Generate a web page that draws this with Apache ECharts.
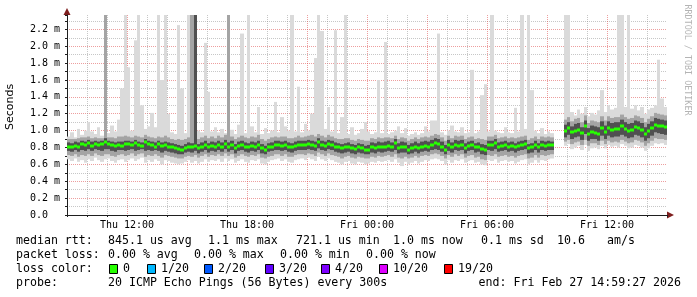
<!DOCTYPE html>
<html><head><meta charset="utf-8">
<script src="https://cdn.jsdelivr.net/npm/echarts@6/dist/echarts.min.js"></script>
<style>html,body{margin:0;padding:0;background:#fff}#c{width:697px;height:297px}</style>
</head><body><div id="c"></div>
<script>
// ---- data (ms); one sample every 10 minutes starting Thu 09:00 ----
const startHour = 9;            // hours since Thu 00:00
const stepHours = 1 / 6;        // 10 minutes
const xTickHours = [12, 18, 24, 30, 36];
const xTickLabels = ['Thu 12:00', 'Thu 18:00', 'Fri 00:00', 'Fri 06:00', 'Fri 12:00'];

const median = [
 0.81,0.80,0.82,0.81,0.84,0.83,0.85,0.82,0.84,0.83, 0.84,0.87,0.84,0.83,0.82,0.83,0.82,0.84,0.84,0.83, 0.85,0.83,0.82,0.86,0.84,0.83,0.81,0.84,0.82,0.83,
 0.81,0.80,0.79,0.78,0.77,0.79,0.81,0.80,0.82,0.79, 0.81,0.83,0.80,0.82,0.81,0.83,0.81,0.84,0.81,0.83, 0.79,0.82,0.83,0.81,0.80,0.82,0.81,0.83,0.79,0.77,
 0.80,0.81,0.83,0.83,0.82,0.83,0.81,0.80,0.82,0.83, 0.83,0.83,0.84,0.83,0.82,0.86,0.83,0.82,0.84,0.83, 0.81,0.80,0.79,0.80,0.81,0.79,0.78,0.80,0.79,0.77,
 0.77,0.80,0.79,0.81,0.80,0.81,0.82,0.81,0.85,0.79, 0.81,0.80,0.77,0.79,0.81,0.79,0.81,0.82,0.81,0.83, 0.85,0.84,0.81,0.77,0.83,0.80,0.83,0.82,0.83,0.79,
 0.82,0.83,0.80,0.81,0.78,0.77,0.83,0.83,0.85,0.81, 0.82,0.83,0.81,0.82,0.80,0.82,0.83,0.84,0.79,0.80, 0.83,0.80,0.83,0.82,0.83,0.83,null,null,null,0.99,
 1.03,0.98,1.00,1.01,0.97,1.05,0.96,0.98,0.97,0.96, 1.03,0.98,1.03,1.01,1.02,1.02,1.05,1.02,1.00,1.01, 1.04,1.03,1.01,0.96,1.00,1.03,1.07,1.06,1.05,1.04
];
const smokeMax = [
 0.93,0.98,0.92,1.02,0.95,1.00,1.10,0.99,0.96,1.04, 0.94,2.37,0.97,1.06,0.99,1.13,1.50,2.37,1.75,1.00, 2.07,2.37,1.30,1.02,1.05,1.21,1.04,2.37,1.60,2.37,
 1.20,0.98,0.96,2.25,1.50,0.97,2.37,2.37,2.37,1.00, 0.98,2.04,1.46,0.99,1.04,0.98,1.02,0.97,2.37,1.01, 0.96,1.07,2.15,0.97,2.37,1.05,0.98,1.28,0.96,1.03,
 0.97,1.00,1.34,0.98,1.16,1.05,1.00,2.37,0.99,1.52, 0.98,1.08,1.00,1.20,1.86,2.37,2.18,1.02,1.28,0.99, 2.19,0.97,1.16,2.37,0.96,1.04,0.95,0.97,1.02,1.10,
 0.99,0.96,0.98,1.60,0.97,2.05,0.96,0.98,1.00,1.05, 0.97,1.03,0.94,0.96,0.98,0.95,0.97,1.05,0.99,1.12, 1.12,2.15,0.98,0.95,1.00,1.06,0.99,0.98,1.04,0.97,
 0.98,1.72,0.97,0.99,1.42,1.55,0.99,2.37,1.00,0.98, 0.97,1.04,0.98,0.97,1.27,0.99,2.37,1.02,2.37,1.48, 1.00,0.97,1.03,0.96,0.99,0.97,null,null,null,2.37,
 2.37,1.22,1.18,1.25,1.20,1.28,1.17,1.21,1.19,1.24, 1.48,1.22,1.30,1.25,1.27,2.37,2.37,1.28,2.37,1.26, 1.30,1.24,1.28,1.20,1.25,1.27,1.30,1.84,1.38,1.28
];
const smokeMin = [
 0.66,0.64,0.67,0.63,0.65,0.62,0.66,0.64,0.68,0.65, 0.63,0.66,0.67,0.64,0.62,0.65,0.66,0.63,0.65,0.67, 0.64,0.66,0.68,0.62,0.65,0.63,0.66,0.64,0.60,0.65,
 0.64,0.62,0.61,0.60,0.61,0.63,0.65,0.62,0.64,0.61, 0.63,0.66,0.63,0.65,0.64,0.66,0.63,0.67,0.64,0.66, 0.62,0.64,0.66,0.63,0.62,0.65,0.64,0.66,0.61,0.60,
 0.63,0.65,0.66,0.67,0.64,0.66,0.63,0.62,0.65,0.66, 0.67,0.65,0.68,0.66,0.64,0.69,0.66,0.64,0.67,0.65, 0.63,0.62,0.60,0.63,0.64,0.61,0.60,0.63,0.62,0.60,
 0.61,0.63,0.62,0.64,0.63,0.64,0.65,0.63,0.66,0.62, 0.58,0.63,0.60,0.62,0.64,0.61,0.63,0.65,0.64,0.66, 0.67,0.66,0.64,0.60,0.65,0.62,0.65,0.64,0.66,0.62,
 0.64,0.65,0.62,0.63,0.60,0.59,0.65,0.64,0.66,0.62, 0.64,0.65,0.63,0.64,0.61,0.63,0.65,0.66,0.60,0.62, 0.65,0.62,0.65,0.64,0.66,0.67,null,null,null,0.82,
 0.84,0.78,0.80,0.82,0.77,0.83,0.76,0.79,0.80,0.78, 0.82,0.79,0.83,0.81,0.82,0.80,0.84,0.82,0.79,0.80, 0.83,0.82,0.80,0.76,0.79,0.82,0.85,0.84,0.85,0.83
];
const midLow = [
 0.71,0.70,0.72,0.69,0.71,0.70,0.72,0.70,0.73,0.71, 0.70,0.72,0.72,0.70,0.69,0.71,0.72,0.70,0.71,0.73, 0.70,0.72,0.73,0.69,0.71,0.70,0.72,0.70,0.68,0.71,
 0.70,0.69,0.68,0.67,0.67,0.69,0.70,0.69,0.71,0.68, 0.70,0.72,0.69,0.71,0.70,0.72,0.70,0.73,0.70,0.72, 0.68,0.70,0.72,0.70,0.69,0.71,0.70,0.72,0.68,0.67,
 0.69,0.70,0.72,0.72,0.70,0.72,0.69,0.69,0.71,0.72, 0.72,0.71,0.73,0.72,0.70,0.74,0.72,0.70,0.73,0.71, 0.70,0.69,0.67,0.69,0.70,0.68,0.67,0.69,0.68,0.67,
 0.67,0.69,0.68,0.70,0.69,0.70,0.71,0.69,0.72,0.68, 0.67,0.69,0.67,0.68,0.70,0.68,0.70,0.71,0.70,0.72, 0.73,0.72,0.70,0.67,0.71,0.69,0.72,0.70,0.72,0.68,
 0.70,0.71,0.68,0.69,0.66,0.65,0.71,0.70,0.72,0.69, 0.70,0.71,0.69,0.70,0.68,0.70,0.71,0.72,0.67,0.68, 0.71,0.68,0.71,0.70,0.71,0.72,null,null,null,0.87,
 0.89,0.84,0.86,0.87,0.83,0.89,0.82,0.85,0.85,0.83, 0.88,0.84,0.88,0.86,0.87,0.86,0.89,0.87,0.85,0.86, 0.89,0.88,0.86,0.82,0.85,0.88,0.91,0.90,0.90,0.89
];
const innerLow = [
 0.76,0.75,0.77,0.75,0.77,0.76,0.78,0.76,0.78,0.77, 0.76,0.78,0.78,0.76,0.75,0.77,0.77,0.76,0.77,0.78, 0.76,0.77,0.78,0.76,0.77,0.76,0.77,0.76,0.74,0.76,
 0.75,0.74,0.73,0.72,0.72,0.74,0.75,0.74,0.76,0.73, 0.75,0.77,0.74,0.76,0.75,0.77,0.75,0.78,0.75,0.77, 0.73,0.76,0.77,0.75,0.74,0.76,0.75,0.77,0.73,0.72,
 0.75,0.76,0.77,0.77,0.76,0.77,0.75,0.74,0.76,0.77, 0.77,0.77,0.78,0.77,0.76,0.79,0.77,0.76,0.78,0.77, 0.75,0.74,0.73,0.74,0.75,0.73,0.72,0.74,0.73,0.72,
 0.72,0.74,0.73,0.75,0.74,0.75,0.76,0.75,0.77,0.73, 0.74,0.74,0.72,0.73,0.75,0.73,0.75,0.76,0.75,0.77, 0.78,0.77,0.75,0.72,0.76,0.74,0.77,0.76,0.77,0.73,
 0.76,0.77,0.74,0.75,0.72,0.71,0.77,0.76,0.78,0.75, 0.76,0.77,0.75,0.76,0.74,0.76,0.77,0.78,0.73,0.74, 0.77,0.74,0.77,0.76,0.77,0.77,null,null,null,0.92,
 0.95,0.90,0.92,0.93,0.89,0.96,0.88,0.90,0.90,0.88, 0.94,0.90,0.94,0.92,0.93,0.93,0.95,0.93,0.91,0.92, 0.95,0.94,0.92,0.88,0.91,0.94,0.98,0.97,0.96,0.95
];
const innerHigh = [
 0.86,0.85,0.87,0.86,0.88,0.87,0.89,0.87,0.88,0.87, 0.88,0.91,0.88,0.87,0.86,0.87,0.87,0.88,0.88,0.87, 0.89,0.87,0.86,0.90,0.88,0.87,0.86,0.88,0.86,0.87,
 0.86,0.85,0.84,0.83,0.82,0.84,0.86,0.85,2.37,0.84, 0.86,0.88,0.85,0.87,0.86,0.88,0.86,0.89,0.86,0.88, 0.84,0.87,0.88,0.86,0.85,0.87,0.86,0.88,0.84,0.82,
 0.85,0.86,0.88,0.88,0.87,0.88,0.86,0.85,0.87,0.88, 0.88,0.88,0.89,0.88,0.87,0.91,0.88,0.87,0.89,0.88, 0.86,0.85,0.84,0.85,0.86,0.84,0.83,0.85,0.84,0.82,
 0.83,0.86,0.85,0.87,0.86,0.87,0.88,0.86,0.90,0.85, 0.87,0.86,0.83,0.85,0.87,0.85,0.87,0.88,0.87,0.89, 0.91,0.90,0.87,0.83,0.89,0.86,0.89,0.88,0.89,0.85,
 0.87,0.88,0.85,0.86,0.84,0.83,0.88,0.88,0.90,0.86, 0.87,0.88,0.86,0.87,0.85,0.87,0.88,0.89,0.84,0.85, 0.88,0.85,0.88,0.87,0.88,0.87,null,null,null,1.07,
 1.10,1.05,1.08,1.09,1.04,1.12,1.03,1.06,1.05,1.04, 1.11,1.06,1.11,1.09,1.10,1.10,1.13,1.10,1.08,1.09, 1.12,1.11,1.09,1.04,1.08,1.11,1.15,1.14,1.13,1.12
];
const midHigh = [
 0.90,0.90,0.90,0.91,0.92,0.92,0.93,0.91,0.92,0.91, 0.91,2.37,0.92,0.92,0.91,0.93,0.93,0.94,0.93,0.92, 0.94,0.93,0.92,0.95,0.93,0.92,0.91,0.93,0.92,0.94,
 0.92,0.90,0.89,0.90,0.89,0.90,0.92,2.37,2.37,0.90, 0.92,0.94,0.91,0.93,0.91,0.94,0.92,0.95,2.37,0.93, 0.90,0.92,0.94,0.92,0.91,0.93,0.92,0.95,0.90,0.88,
 0.90,0.92,0.93,0.92,0.93,0.93,0.91,0.91,0.92,0.94, 0.92,0.93,0.94,0.95,0.93,0.96,0.94,0.92,0.95,0.93, 0.91,0.90,0.90,0.91,0.91,0.89,0.88,0.90,0.89,0.88,
 0.88,0.91,0.90,0.92,0.91,0.92,0.92,0.91,0.94,0.90, 0.92,0.91,0.88,0.90,0.92,0.90,0.92,0.93,0.92,0.94, 0.96,0.95,0.92,0.88,0.94,0.91,0.94,0.93,0.94,0.90,
 0.92,0.93,0.90,0.91,0.90,0.89,0.93,0.93,0.95,0.91, 0.92,0.93,0.91,0.92,0.91,0.92,0.93,0.94,0.89,0.91, 0.93,0.90,0.93,0.92,0.93,0.92,null,null,null,1.13,
 1.16,1.11,1.14,1.15,1.10,1.18,1.09,1.12,1.11,1.10, 1.17,1.12,1.17,1.15,1.16,1.16,1.19,1.16,1.14,1.15, 1.18,1.17,1.15,1.10,1.14,1.17,1.21,1.20,1.19,1.18
];

const lossLabels = ['0', '1/20', '2/20', '3/20', '4/20', '10/20', '19/20'];
const lossColors = ['#26ff00', '#00b8ff', '#0059ff', '#5e00ff', '#7e00ff', '#dd00ff', '#ff0000'];
const rttTexts = ['845.1 us avg', '1.1 ms max', '721.1 us min', '1.0 ms now', '0.1 ms sd', '10.6', 'am/s'];
const lossTexts = ['0.00 % avg', '0.00 % max', '0.00 % min', '0.00 % now'];
const probeText = '20 ICMP Echo Pings (56 Bytes) every 300s';
const endText = 'end: Fri Feb 27 14:59:27 2026';

// ---- build ----
const times = median.map((_, i) => startHour + i * stepHours);
const smokeData = [];
const medData = [];
times.forEach((t, i) => {
  if (median[i] == null) return;
  smokeData.push([t, smokeMin[i], midLow[i], innerLow[i], innerHigh[i], midHigh[i], smokeMax[i]]);
  medData.push([t, median[i]]);
});

const MONO = '"DejaVu Sans Mono", monospace';
const RED = 'rgba(222,79,79,0.55)';
const GRAY = 'rgba(143,143,143,0.5)';

const chart = echarts.init(document.getElementById('c'), null, {renderer: 'canvas'});

function band(api, t, a, b, fill) {
  const x0 = Math.round(api.coord([t, 0])[0]);
  const x1 = Math.round(api.coord([t + stepHours, 0])[0]);
  const yTop = api.coord([t, b])[1];
  const yBot = api.coord([t, a])[1];
  return {type: 'rect', shape: {x: x0, y: yTop, width: x1 - x0, height: yBot - yTop}, style: {fill: fill}};
}

const graphics = [];
function txt(x, y, s, opts) {
  graphics.push(Object.assign({type: 'text', x: x, y: y, silent: true,
    style: Object.assign({text: s, font: '11.6px ' + MONO, fill: '#000', textVerticalAlign: 'middle'}, opts || {})}));
}
// axis arrows
graphics.push({type: 'polygon', shape: {points: [[63.5, 15], [70.5, 15], [67, 8]]}, style: {fill: '#7f1f1f'}});
graphics.push({type: 'polygon', shape: {points: [[667, 211.5], [667, 218.5], [674, 215]]}, style: {fill: '#7f1f1f'}});
// y title
graphics.push({type: 'text', x: 10, y: 107, rotation: Math.PI / 2,
  style: {text: 'Seconds', font: '11px "DejaVu Sans", sans-serif', fill: '#000', textAlign: 'center', textVerticalAlign: 'middle'}});
// watermark
graphics.push({type: 'text', x: 687, y: 60, rotation: -Math.PI / 2,
  style: {text: 'RRDTOOL / TOBI OETIKER', font: '8.4px ' + MONO, fill: '#b4b4b4', textAlign: 'center', textVerticalAlign: 'middle'}});
// legend lines
const rttX = [108, 208, 296, 393, 481, 557, 607];
txt(16, 241, 'median rtt:');
rttTexts.forEach((s, i) => txt(rttX[i], 241, s));
const lossX = [108, 194, 280, 366];
txt(16, 255, 'packet loss:');
lossTexts.forEach((s, i) => txt(lossX[i], 255, s));
txt(16, 269, 'loss color:');
const boxX = [109, 147, 204, 265, 321, 379, 444];
lossLabels.forEach((s, i) => {
  graphics.push({type: 'rect', shape: {x: boxX[i] + 0.5, y: 264.5, width: 8, height: 9},
    style: {fill: lossColors[i], stroke: '#000', lineWidth: 1}});
  txt(boxX[i] + 14, 269, s);
});
txt(16, 283, 'probe:');
txt(108, 283, probeText);
txt(681, 283, endText, {textAlign: 'right'});

chart.setOption({
  backgroundColor: '#fff',
  animation: false,
  grid: {left: 67, top: 15, width: 600, height: 200, containLabel: false},
  xAxis: {
    type: 'value', min: 9, max: 39, interval: 1,
    axisLine: {show: true, onZero: false, lineStyle: {color: '#1f1f1f', width: 1}},
    axisTick: {show: true, length: 2, lineStyle: {color: '#1f1f1f'}},
    axisLabel: {
      margin: 5, color: '#000', fontFamily: MONO, fontSize: 10, showMinLabel: true, showMaxLabel: true,
      formatter: v => { const k = xTickHours.indexOf(Math.round(v)); return (k >= 0 && Math.abs(v - Math.round(v)) < 1e-6) ? xTickLabels[k] : ''; }
    },
    splitLine: {show: true, showMaxLine: false, lineStyle: {color: [RED, GRAY, GRAY], type: [1, 1], width: 1}}
  },
  yAxis: {
    type: 'value', min: 0, max: 2.37, interval: 0.1,
    axisLine: {show: true, lineStyle: {color: '#1f1f1f', width: 1}},
    axisTick: {show: true, length: 2, lineStyle: {color: '#1f1f1f'}},
    axisLabel: {
      margin: 37, align: 'left', color: '#000', fontFamily: MONO, fontSize: 10,
      formatter: v => { const k = Math.round(v * 10); if (Math.abs(v * 10 - k) > 1e-6 || k % 2) return ''; return k === 0 ? '0.0' : (k / 10).toFixed(1) + ' m'; }
    },
    splitLine: {show: true, showMaxLine: false, lineStyle: {color: [RED, GRAY], type: [1, 1], width: 1}}
  },
  series: [
    {
      type: 'custom', name: 'smoke', data: smokeData, encode: {x: 0, y: [1, 6]}, clip: true,
      renderItem: (params, api) => {
        const t = api.value(0);
        return {type: 'group', children: [
          band(api, t, api.value(1), api.value(6), '#dadada'),
          band(api, t, api.value(2), api.value(5), '#a4a4a4'),
          band(api, t, api.value(3), api.value(4), '#505050')
        ]};
      }
    },
    {
      type: 'custom', name: 'median', data: medData, encode: {x: 0, y: 1}, clip: true,
      renderItem: (params, api) => {
        const t = api.value(0);
        const x0 = Math.round(api.coord([t, 0])[0]);
        const x1 = Math.round(api.coord([t + stepHours, 0])[0]);
        const y = api.coord([t, api.value(1)])[1];
        return {type: 'rect', shape: {x: x0, y: Math.round(y) - 1.5, width: x1 - x0, height: 3}, style: {fill: '#26ff00'}};
      }
    }
  ],
  graphic: graphics
});
</script>
</body></html>
